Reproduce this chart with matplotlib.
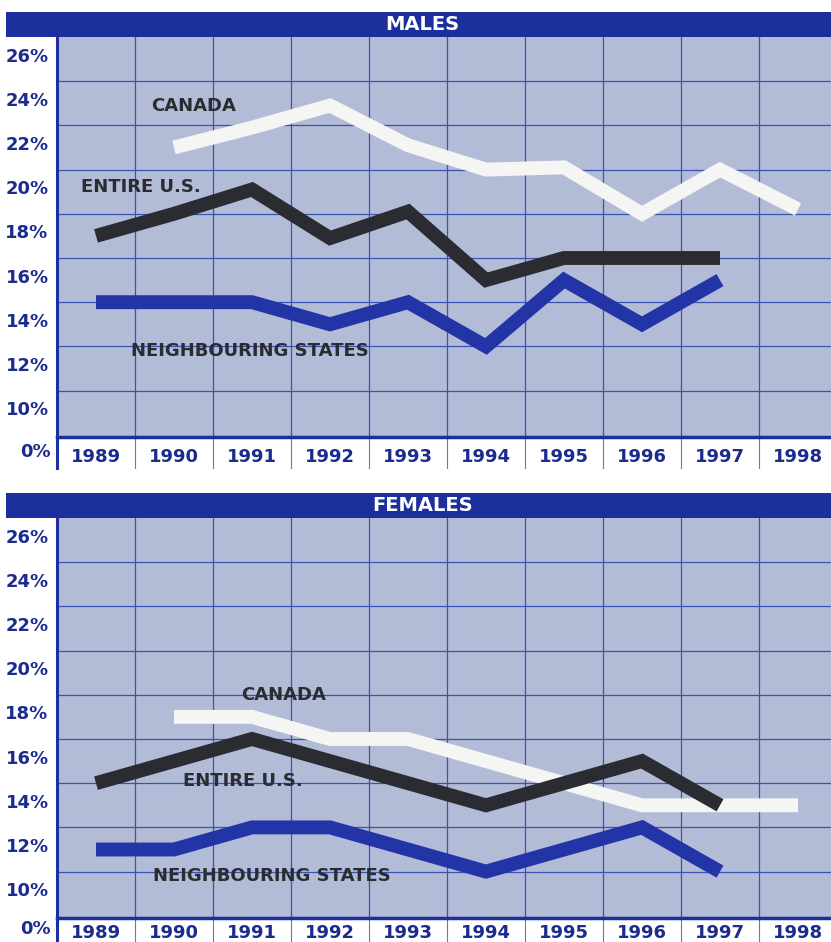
import numpy as np
import matplotlib.pyplot as plt

years = [1989, 1990, 1991, 1992, 1993, 1994, 1995, 1996, 1997, 1998]
ytick_vals = [10, 12, 14, 16, 18, 20, 22, 24, 26]

# males (None = no value)
male_canada = [None, 21.8, 22.7, 23.7, 21.9, 20.8, 20.9, 18.8, 20.8, 19.0]
male_us = [17.8, 18.8, 19.9, 17.7, 18.9, 15.8, 16.8, 16.8, 16.8, None]
male_neigh = [14.8, 14.8, 14.8, 13.8, 14.8, 12.8, 15.8, 13.8, 15.8, None]

# females
fem_canada = [None, 17.8, 17.8, 16.8, 16.8, 15.8, 14.8, 13.8, 13.8, 13.8]
fem_us = [14.8, 15.8, 16.8, 15.8, 14.8, 13.8, 14.8, 15.8, 13.8, None]
fem_neigh = [11.8, 11.8, 12.8, 12.8, 11.8, 10.8, 11.8, 12.8, 10.8, None]

bg = '#b3bcd7'
grid_c = '#3a52b4'
navy = '#1c2f9c'
label_c = '#1b2b8e'
dark = '#2a2c31'
white_line = '#f5f5f3'
blue_line = '#2234a6'
font = 'DejaVu Sans'

W, H = 831, 942
fig = plt.figure(figsize=(W / 100, H / 100), dpi=100)
fig.patch.set_facecolor('white')


def px(x0, y0, x1, y1):
    # pixel box -> figure fraction [left, bottom, width, height]
    return [x0 / W, 1 - y1 / H, (x1 - x0) / W, (y1 - y0) / H]


def panel(top, title, canada, us, neigh, labels, xpad=8):
    # title bar
    bar = fig.add_axes(px(6, top, W, top + 25))
    bar.set_facecolor(navy)
    bar.set_xticks([]); bar.set_yticks([])
    for s in bar.spines.values():
        s.set_visible(False)
    bar.text(0.505, 0.5, title, transform=bar.transAxes,
             ha='center', va='center', color='white', fontsize=14,
             fontweight='bold', family=font)

    ax = fig.add_axes(px(57, top + 25, 837, top + 425))
    ax.set_facecolor(bg)
    ax.set_xlim(-0.5, 9.5)
    ax.set_ylim(8.7, 26.8)
    x = np.arange(len(years))

    for g in np.arange(10.8, 25, 2):
        ax.axhline(g, color=grid_c, lw=0.9, zorder=1)
    for g in np.arange(0.5, 9, 1):
        ax.axvline(g, color=grid_c, lw=0.9, zorder=1)

    for series, col in [(canada, white_line), (us, dark), (neigh, blue_line)]:
        xs = [xi for xi, v in zip(x, series) if v is not None]
        vs = [v for v in series if v is not None]
        ax.plot(xs, vs, color=col, lw=10, solid_capstyle='butt',
                solid_joinstyle='miter', zorder=3)

    for txt, lx, ly in labels:
        ax.text(lx, ly, txt, ha='center', va='center', color=dark, fontsize=13,
                fontweight='bold', family=font, zorder=4)

    ax.set_yticks(ytick_vals)
    ax.set_yticklabels([f'{v}%' for v in ytick_vals])
    ax.tick_params(axis='y', length=0, pad=6, labelsize=13, labelcolor=label_c)
    for t in ax.get_yticklabels():
        t.set_fontweight('bold')
    ax.set_xticks(x)
    ax.set_xticklabels([str(y) for y in years])
    ax.tick_params(axis='x', length=0, pad=xpad, labelsize=13, labelcolor=label_c)
    for t in ax.get_xticklabels():
        t.set_fontweight('bold')

    for s in ['top', 'right']:
        ax.spines[s].set_visible(False)
    ax.spines['left'].set_color(navy)
    ax.spines['left'].set_linewidth(2.2)
    ax.spines['bottom'].set_color(navy)
    ax.spines['bottom'].set_linewidth(2.5)

    # separators in the year row and the 0% label
    for g in np.arange(0.5, 9, 1):
        ax.plot([g, g], [8.7, 7.3], color='#6a78b0', lw=0.8, clip_on=False, zorder=1)
    ax.plot([-0.5, -0.5], [8.7, 7.3], color=navy, lw=2.2, clip_on=False)
    zero_y = 8.0 if xpad >= 8 else 8.2
    ax.text(-0.58, zero_y, '0%', ha='right', va='center', color=label_c, fontsize=13,
            fontweight='bold', family=font)
    return ax


panel(12, 'MALES', male_canada, male_us, male_neigh,
      [('CANADA', 1.25, 23.7), ('ENTIRE U.S.', 0.58, 20.0),
       ('NEIGHBOURING STATES', 1.97, 12.6)])
panel(493, 'FEMALES', fem_canada, fem_us, fem_neigh,
      [('CANADA', 2.4, 18.8), ('ENTIRE U.S.', 1.88, 14.9),
       ('NEIGHBOURING STATES', 2.26, 10.6)], xpad=4)

plt.savefig('out.png', dpi=100)
